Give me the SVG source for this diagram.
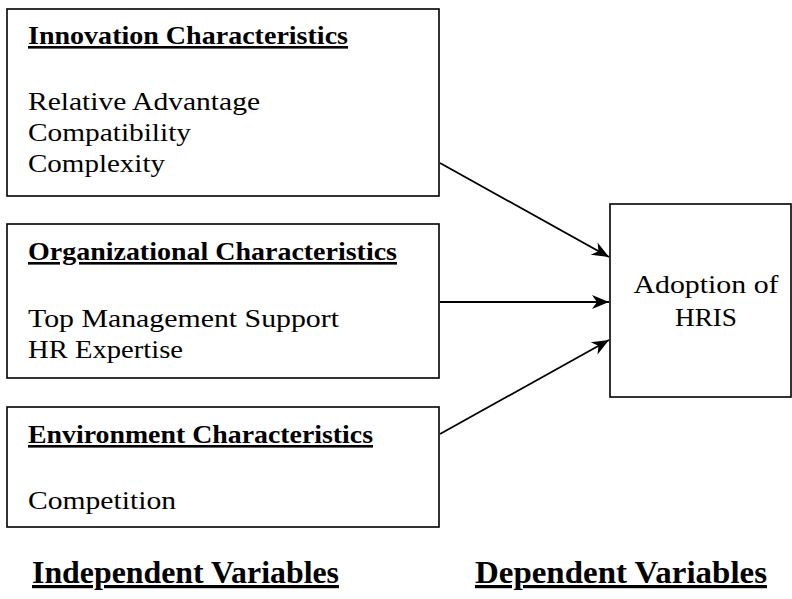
<svg xmlns="http://www.w3.org/2000/svg" width="792" height="599" viewBox="0 0 792 599">
<style>
.box{fill:#fff;stroke:#000;stroke-width:1.6}
.t{font-family:"Liberation Serif","Times New Roman",serif;font-size:26px;fill:#000}
.h{font-weight:bold;text-decoration:underline}
.big{font-size:32px}
.edge{stroke:#000;stroke-width:1.8;fill:none;marker-end:url(#ah)}
</style>
<defs>
<marker id="ah" markerUnits="userSpaceOnUse" markerWidth="20" markerHeight="16" viewBox="-18 -8 20 16" refX="0" refY="0" orient="auto">
<path d="M0,0 L-17,-7 L-12,0 L-17,7 Z" fill="#000"/>
</marker>
</defs>
<g id="innovation">
<rect class="box" x="7" y="9" width="432" height="187"/>
<text class="t h" x="28" y="44" textLength="320" lengthAdjust="spacingAndGlyphs">Innovation Characteristics</text>
<text class="t" x="28" y="110" textLength="232" lengthAdjust="spacingAndGlyphs">Relative Advantage</text>
<text class="t" x="28" y="141" textLength="163" lengthAdjust="spacingAndGlyphs">Compatibility</text>
<text class="t" x="28" y="172" textLength="137" lengthAdjust="spacingAndGlyphs">Complexity</text>
</g>
<g id="organizational">
<rect class="box" x="7" y="224" width="432" height="154"/>
<text class="t h" x="28" y="260" textLength="369" lengthAdjust="spacingAndGlyphs">Organizational Characteristics</text>
<text class="t" x="28" y="327" textLength="311" lengthAdjust="spacingAndGlyphs">Top Management Support</text>
<text class="t" x="28" y="358" textLength="155" lengthAdjust="spacingAndGlyphs">HR Expertise</text>
</g>
<g id="environment">
<rect class="box" x="7" y="407" width="432" height="120"/>
<text class="t h" x="28" y="443" textLength="345" lengthAdjust="spacingAndGlyphs">Environment Characteristics</text>
<text class="t" x="28" y="509" textLength="148" lengthAdjust="spacingAndGlyphs">Competition</text>
</g>
<g id="adoption">
<rect class="box" x="610" y="204" width="181" height="193"/>
<text class="t" x="706" y="293" text-anchor="middle" textLength="145" lengthAdjust="spacingAndGlyphs">Adoption of</text>
<text class="t" x="706" y="326" text-anchor="middle" textLength="62" lengthAdjust="spacingAndGlyphs">HRIS</text>
</g>
<g id="connectors">
<line class="edge" x1="440" y1="163" x2="609" y2="257"/>
<line class="edge" x1="440" y1="302" x2="609" y2="302"/>
<line class="edge" x1="440" y1="434" x2="609" y2="340"/>
</g>
<g id="labels">
<text class="t h big" x="32" y="583" textLength="307" lengthAdjust="spacingAndGlyphs">Independent Variables</text>
<text class="t h big" x="475" y="583" textLength="292" lengthAdjust="spacingAndGlyphs">Dependent Variables</text>
</g>
</svg>
